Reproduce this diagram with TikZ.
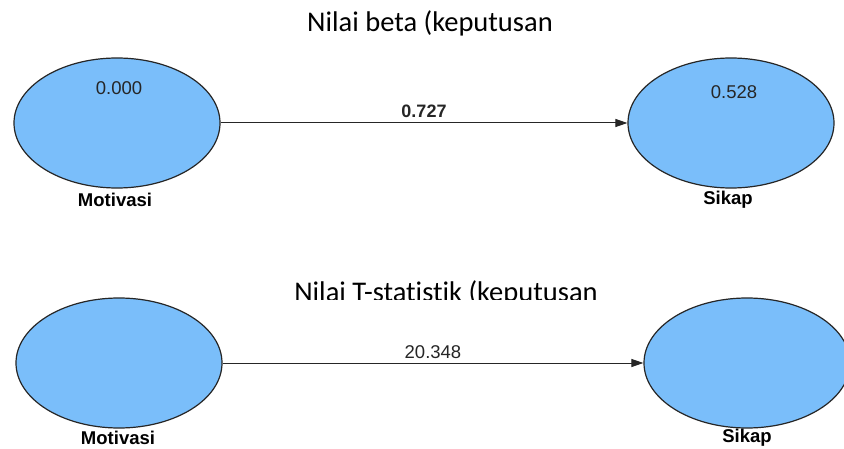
\documentclass[tikz,border=0pt]{standalone}
\usepackage{fontspec}
\setmainfont[Ligatures={NoCommon}]{Carlito}
\newfontfamily\lblfont{Liberation Sans}
\usetikzlibrary{shapes.geometric,arrows.meta}
\definecolor{lvfill}{RGB}{122,190,250}
\tikzset{
  lv/.style={ellipse, draw=black!85, line width=1.2pt, fill=lvfill, minimum width=206pt, minimum height=130pt, inner sep=0pt},
  lvname/.style={font=\lblfont\bfseries\fontsize{18.5}{20}\selectfont, anchor=center, inner sep=1pt},
  lvval/.style={font=\lblfont\fontsize{18.5}{20}\selectfont, anchor=center, text=black!85},
  title/.style={font=\fontsize{28.5}{32}\selectfont, anchor=base},
  path/.style={draw=black!85, line width=1pt, -{Triangle[length=12pt,width=8pt]}},
  pathlbl/.style={font=\lblfont\fontsize{18.5}{20}\selectfont, anchor=center, text=black!85}
}
\begin{document}
\begin{tikzpicture}[x=1pt,y=1pt]
\clip (0,0) rectangle (844,448);
\fill[white] (0,0) rectangle (844,448);
% top diagram
\node[title] (t1) at (430,416.3) {Nilai beta (keputusan};
\node[lv] (m1) at (117,325) {};
\node[lv] (s1) at (731,325) {};
\node[lvval] (m1v) at (119,360) {0.000};
\node[lvval] (s1v) at (734,356) {0.528};
\node[lvname] (m1n) at (115,248) {Motivasi};
\node[lvname] (s1n) at (728,248) {Sikap};
\draw[path] (m1) -- node[pathlbl, font=\lblfont\bfseries\fontsize{18}{20}\selectfont, above=1pt] (p1) {0.727} (s1);
% bottom diagram
\begin{scope}
\clip (0,149) rectangle (844,200);
\node[title] (t2) at (446,147) {Nilai T-statistik (keputusan};
\end{scope}
\node[lv] (m2) at (119,85) {};
\node[lv] (s2) at (747,85) {};
\node[lvname] (m2n) at (118,10.5) {Motivasi};
\node[lvname] (s2n) at (747,10.5) {Sikap};
\draw[path] (m2) -- node[pathlbl, above=0pt] (p2) {20.348} (s2);
\end{tikzpicture}
\end{document}
